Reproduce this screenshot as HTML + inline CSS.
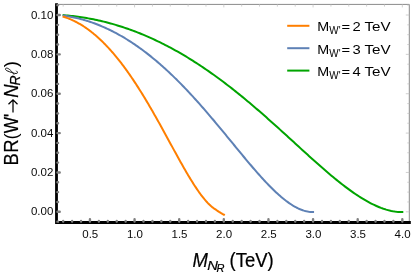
<!DOCTYPE html>
<html><head><meta charset="utf-8"><title>plot</title>
<style>html,body{margin:0;padding:0;background:#fff;width:415px;height:276px;overflow:hidden}</style></head>
<body>
<svg width="415" height="276" viewBox="0 0 415 276" style="position:absolute;left:0;top:0;will-change:transform">
<rect width="415" height="276" fill="#fff"/>
<path d="M56.5,4.4 H409.3 V222.5" fill="none" stroke="#8a8a8a" stroke-width="1"/>
<path d="M63.18,4.4 v2.2 M81.03,4.4 v2.2 M98.88,4.4 v2.2 M116.73,4.4 v2.2 M134.57,4.4 v3.0 M152.43,4.4 v2.2 M170.27,4.4 v2.2 M188.12,4.4 v2.2 M205.98,4.4 v2.2 M223.82,4.4 v3.0 M241.68,4.4 v2.2 M259.52,4.4 v2.2 M277.38,4.4 v2.2 M295.22,4.4 v2.2 M313.07,4.4 v3.0 M330.93,4.4 v2.2 M348.77,4.4 v2.2 M366.62,4.4 v2.2 M384.47,4.4 v2.2 M402.32,4.4 v3.0 M409.3,221.64 h-2 M409.3,211.80 h-3.5 M409.3,201.96 h-2 M409.3,192.12 h-2 M409.3,182.28 h-2 M409.3,172.44 h-3.5 M409.3,162.60 h-2 M409.3,152.76 h-2 M409.3,142.92 h-2 M409.3,133.08 h-3.5 M409.3,123.24 h-2 M409.3,113.40 h-2 M409.3,103.56 h-2 M409.3,93.72 h-3.5 M409.3,83.88 h-2 M409.3,74.04 h-2 M409.3,64.20 h-2 M409.3,54.36 h-3.5 M409.3,44.52 h-2 M409.3,34.68 h-2 M409.3,24.84 h-2 M409.3,15.00 h-3.5 M409.3,5.16 h-2" stroke="#c4c4c4" stroke-width="0.8" fill="none"/>
<path d="M62.64,15.11 L64.35,15.24 L66.06,15.38 L67.78,15.54 L69.49,15.71 L71.20,15.89 L72.91,16.08 L74.62,16.28 L76.33,16.50 L78.05,16.73 L79.76,16.97 L81.47,17.22 L83.18,17.49 L84.89,17.77 L86.61,18.06 L88.32,18.36 L90.03,18.68 L91.74,19.00 L93.45,19.34 L95.17,19.70 L96.88,20.06 L98.59,20.44 L100.30,20.83 L102.01,21.23 L103.72,21.65 L105.44,22.08 L107.15,22.52 L108.86,22.97 L110.57,23.44 L112.28,23.91 L114.00,24.40 L115.71,24.91 L117.42,25.42 L119.13,25.95 L120.84,26.49 L122.56,27.05 L124.27,27.61 L125.98,28.19 L127.69,28.78 L129.40,29.39 L131.12,30.01 L132.83,30.64 L134.54,31.28 L136.25,31.93 L137.96,32.60 L139.67,33.28 L141.39,33.98 L143.10,34.68 L144.81,35.40 L146.52,36.13 L148.23,36.88 L149.95,37.63 L151.66,38.40 L153.37,39.19 L155.08,39.98 L156.79,40.79 L158.51,41.61 L160.22,42.45 L161.93,43.29 L163.64,44.15 L165.35,45.03 L167.07,45.91 L168.78,46.81 L170.49,47.72 L172.20,48.64 L173.91,49.58 L175.62,50.53 L177.34,51.49 L179.05,52.46 L180.76,53.45 L182.47,54.45 L184.18,55.46 L185.90,56.48 L187.61,57.52 L189.32,58.57 L191.03,59.63 L192.74,60.70 L194.46,61.79 L196.17,62.89 L197.88,64.00 L199.59,65.12 L201.30,66.25 L203.01,67.40 L204.73,68.56 L206.44,69.73 L208.15,70.91 L209.86,72.11 L211.57,73.31 L213.29,74.53 L215.00,75.76 L216.71,77.00 L218.42,78.25 L220.13,79.51 L221.85,80.79 L223.56,82.07 L225.27,83.37 L226.98,84.68 L228.69,85.99 L230.41,87.32 L232.12,88.66 L233.83,90.01 L235.54,91.37 L237.25,92.74 L238.96,94.12 L240.68,95.51 L242.39,96.90 L244.10,98.31 L245.81,99.73 L247.52,101.15 L249.24,102.59 L250.95,104.03 L252.66,105.48 L254.37,106.94 L256.08,108.41 L257.80,109.88 L259.51,111.36 L261.22,112.85 L262.93,114.35 L264.64,115.85 L266.36,117.36 L268.07,118.88 L269.78,120.40 L271.49,121.92 L273.20,123.45 L274.91,124.99 L276.63,126.53 L278.34,128.08 L280.05,129.63 L281.76,131.18 L283.47,132.73 L285.19,134.29 L286.90,135.85 L288.61,137.41 L290.32,138.98 L292.03,140.54 L293.75,142.11 L295.46,143.67 L297.17,145.24 L298.88,146.80 L300.59,148.37 L302.30,149.93 L304.02,151.49 L305.73,153.04 L307.44,154.60 L309.15,156.15 L310.86,157.69 L312.58,159.23 L314.29,160.76 L316.00,162.29 L317.71,163.81 L319.42,165.32 L321.14,166.83 L322.85,168.32 L324.56,169.81 L326.27,171.28 L327.98,172.75 L329.70,174.20 L331.41,175.64 L333.12,177.07 L334.83,178.48 L336.54,179.87 L338.25,181.26 L339.97,182.62 L341.68,183.97 L343.39,185.30 L345.10,186.61 L346.81,187.90 L348.53,189.16 L350.24,190.41 L351.95,191.63 L353.66,192.83 L355.37,194.01 L357.09,195.15 L358.80,196.27 L360.51,197.37 L362.22,198.43 L363.93,199.46 L365.65,200.47 L367.36,201.43 L369.07,202.37 L370.78,203.27 L372.49,204.14 L374.20,204.96 L375.92,205.75 L377.63,206.50 L379.34,207.21 L381.05,207.88 L382.76,208.50 L384.48,209.08 L386.19,209.61 L387.90,210.09 L389.61,210.53 L391.32,210.91 L393.04,211.25 L394.75,211.53 L396.46,211.75 L398.17,211.93 L399.88,212.04 L401.59,212.09 L403.31,212.10" fill="none" stroke="#00a400" stroke-width="2" stroke-linecap="butt" stroke-linejoin="round"/>
<path d="M62.64,15.47 L63.90,15.64 L65.17,15.82 L66.43,16.01 L67.69,16.22 L68.96,16.44 L70.22,16.66 L71.48,16.91 L72.75,17.16 L74.01,17.42 L75.27,17.70 L76.54,17.99 L77.80,18.29 L79.06,18.60 L80.33,18.93 L81.59,19.26 L82.85,19.61 L84.12,19.97 L85.38,20.35 L86.64,20.73 L87.91,21.13 L89.17,21.54 L90.43,21.96 L91.70,22.39 L92.96,22.84 L94.22,23.30 L95.49,23.77 L96.75,24.25 L98.01,24.75 L99.28,25.25 L100.54,25.77 L101.81,26.30 L103.07,26.85 L104.33,27.40 L105.60,27.97 L106.86,28.55 L108.12,29.14 L109.39,29.75 L110.65,30.37 L111.91,31.00 L113.18,31.64 L114.44,32.29 L115.70,32.96 L116.97,33.64 L118.23,34.33 L119.49,35.03 L120.76,35.75 L122.02,36.48 L123.28,37.22 L124.55,37.97 L125.81,38.74 L127.07,39.51 L128.34,40.30 L129.60,41.11 L130.86,41.92 L132.13,42.75 L133.39,43.59 L134.65,44.44 L135.92,45.31 L137.18,46.18 L138.44,47.07 L139.71,47.97 L140.97,48.89 L142.23,49.81 L143.50,50.75 L144.76,51.70 L146.02,52.66 L147.29,53.64 L148.55,54.63 L149.81,55.63 L151.08,56.64 L152.34,57.66 L153.60,58.70 L154.87,59.74 L156.13,60.80 L157.39,61.87 L158.66,62.96 L159.92,64.05 L161.18,65.16 L162.45,66.28 L163.71,67.41 L164.98,68.55 L166.24,69.70 L167.50,70.87 L168.77,72.05 L170.03,73.23 L171.29,74.43 L172.56,75.64 L173.82,76.86 L175.08,78.10 L176.35,79.34 L177.61,80.59 L178.87,81.86 L180.14,83.13 L181.40,84.42 L182.66,85.71 L183.93,87.02 L185.19,88.34 L186.45,89.66 L187.72,91.00 L188.98,92.34 L190.24,93.70 L191.51,95.07 L192.77,96.44 L194.03,97.82 L195.30,99.21 L196.56,100.61 L197.82,102.02 L199.09,103.44 L200.35,104.87 L201.61,106.30 L202.88,107.74 L204.14,109.19 L205.40,110.65 L206.67,112.11 L207.93,113.58 L209.19,115.06 L210.46,116.54 L211.72,118.03 L212.98,119.52 L214.25,121.02 L215.51,122.53 L216.77,124.04 L218.04,125.56 L219.30,127.07 L220.56,128.60 L221.83,130.12 L223.09,131.65 L224.36,133.19 L225.62,134.72 L226.88,136.26 L228.15,137.80 L229.41,139.34 L230.67,140.88 L231.94,142.42 L233.20,143.96 L234.46,145.50 L235.73,147.04 L236.99,148.58 L238.25,150.12 L239.52,151.65 L240.78,153.19 L242.04,154.71 L243.31,156.24 L244.57,157.76 L245.83,159.28 L247.10,160.78 L248.36,162.29 L249.62,163.79 L250.89,165.27 L252.15,166.76 L253.41,168.23 L254.68,169.69 L255.94,171.15 L257.20,172.59 L258.47,174.02 L259.73,175.44 L260.99,176.84 L262.26,178.24 L263.52,179.62 L264.78,180.98 L266.05,182.33 L267.31,183.66 L268.57,184.97 L269.84,186.26 L271.10,187.54 L272.36,188.79 L273.63,190.03 L274.89,191.24 L276.15,192.43 L277.42,193.59 L278.68,194.73 L279.94,195.84 L281.21,196.93 L282.47,197.99 L283.74,199.02 L285.00,200.02 L286.26,200.99 L287.53,201.92 L288.79,202.83 L290.05,203.70 L291.32,204.53 L292.58,205.33 L293.84,206.09 L295.11,206.81 L296.37,207.49 L297.63,208.13 L298.90,208.72 L300.16,209.27 L301.42,209.78 L302.69,210.24 L303.95,210.65 L305.21,211.02 L306.48,211.33 L307.74,211.59 L309.00,211.80 L310.27,211.96 L311.53,212.06 L312.79,212.10 L314.06,212.10" fill="none" stroke="#5e81b5" stroke-width="2" stroke-linecap="butt" stroke-linejoin="round"/>
<path d="M62.64,16.50 L63.45,16.75 L64.27,17.00 L65.08,17.26 L65.90,17.54 L66.71,17.83 L67.53,18.13 L68.34,18.44 L69.16,18.76 L69.97,19.10 L70.79,19.44 L71.60,19.80 L72.42,20.16 L73.23,20.54 L74.05,20.93 L74.86,21.33 L75.68,21.75 L76.49,22.17 L77.31,22.60 L78.12,23.05 L78.94,23.51 L79.75,23.98 L80.57,24.46 L81.38,24.95 L82.20,25.46 L83.01,25.97 L83.83,26.50 L84.64,27.04 L85.46,27.59 L86.27,28.15 L87.09,28.72 L87.90,29.31 L88.72,29.90 L89.53,30.51 L90.35,31.13 L91.16,31.76 L91.98,32.41 L92.79,33.06 L93.61,33.73 L94.42,34.40 L95.24,35.09 L96.05,35.79 L96.87,36.50 L97.68,37.23 L98.50,37.96 L99.31,38.71 L100.13,39.47 L100.94,40.24 L101.76,41.02 L102.57,41.81 L103.39,42.62 L104.20,43.43 L105.01,44.26 L105.83,45.10 L106.64,45.95 L107.46,46.82 L108.27,47.69 L109.09,48.58 L109.90,49.47 L110.72,50.38 L111.53,51.30 L112.35,52.23 L113.16,53.18 L113.98,54.13 L114.79,55.10 L115.61,56.08 L116.42,57.06 L117.24,58.06 L118.05,59.08 L118.87,60.10 L119.68,61.13 L120.50,62.18 L121.31,63.23 L122.13,64.30 L122.94,65.38 L123.76,66.47 L124.57,67.57 L125.39,68.68 L126.20,69.80 L127.02,70.93 L127.83,72.08 L128.65,73.23 L129.46,74.39 L130.28,75.57 L131.09,76.75 L131.91,77.95 L132.72,79.15 L133.54,80.37 L134.35,81.60 L135.17,82.83 L135.98,84.08 L136.80,85.33 L137.61,86.60 L138.43,87.87 L139.24,89.16 L140.06,90.45 L140.87,91.75 L141.69,93.06 L142.50,94.38 L143.32,95.71 L144.13,97.05 L144.95,98.39 L145.76,99.75 L146.58,101.11 L147.39,102.48 L148.21,103.86 L149.02,105.24 L149.83,106.64 L150.65,108.04 L151.46,109.44 L152.28,110.86 L153.09,112.28 L153.91,113.70 L154.72,115.14 L155.54,116.57 L156.35,118.02 L157.17,119.47 L157.98,120.92 L158.80,122.38 L159.61,123.85 L160.43,125.31 L161.24,126.79 L162.06,128.26 L162.87,129.74 L163.69,131.22 L164.50,132.71 L165.32,134.20 L166.13,135.69 L166.95,137.18 L167.76,138.67 L168.58,140.16 L169.39,141.66 L170.21,143.15 L171.02,144.65 L171.84,146.14 L172.65,147.63 L173.47,149.12 L174.28,150.61 L175.10,152.10 L175.91,153.58 L176.73,155.06 L177.54,156.54 L178.36,158.01 L179.17,159.48 L179.99,160.94 L180.80,162.40 L181.62,163.85 L182.43,165.29 L183.25,166.73 L184.06,168.16 L184.88,169.58 L185.69,170.99 L186.51,172.39 L187.32,173.77 L188.14,175.15 L188.95,176.52 L189.77,177.87 L190.58,179.21 L191.40,180.53 L192.21,181.84 L193.03,183.14 L193.84,184.42 L194.66,185.68 L195.47,186.92 L196.28,188.15 L197.10,189.36 L197.91,190.54 L198.73,191.71 L199.54,192.85 L200.36,193.97 L201.17,195.07 L201.99,196.14 L202.80,197.18 L203.62,198.20 L204.43,199.20 L205.25,200.16 L206.06,201.09 L206.88,202.00 L207.69,202.87 L208.51,203.71 L209.32,204.52 L210.14,205.29 L210.95,206.03 L211.77,206.73 L212.58,207.40 L213.40,208.02 L214.21,208.61 L215.03,209.15 L215.84,209.70 L216.66,210.25 L217.47,210.80 L218.29,211.34 L219.10,211.88 L219.92,212.40 L220.73,212.91 L221.55,213.40 L222.36,213.87 L223.18,214.32 L223.99,214.75 L224.81,215.20" fill="none" stroke="#ff7f00" stroke-width="2" stroke-linecap="butt" stroke-linejoin="round"/>
<path d="M56.5,3.2 V222.5 H410.8" fill="none" stroke="#000" stroke-width="2.8" stroke-linejoin="miter"/>
<path d="M63.18,221.55 v-0.6 M72.10,221.55 v-0.6 M81.03,221.55 v-0.6 M89.95,221.55 v-2.3 M98.88,221.55 v-0.6 M107.80,221.55 v-0.6 M116.73,221.55 v-0.6 M125.65,221.55 v-0.6 M134.57,221.55 v-2.3 M143.50,221.55 v-0.6 M152.43,221.55 v-0.6 M161.35,221.55 v-0.6 M170.27,221.55 v-0.6 M179.20,221.55 v-2.3 M188.12,221.55 v-0.6 M197.05,221.55 v-0.6 M205.98,221.55 v-0.6 M214.90,221.55 v-0.6 M223.82,221.55 v-2.3 M232.75,221.55 v-0.6 M241.68,221.55 v-0.6 M250.60,221.55 v-0.6 M259.52,221.55 v-0.6 M268.45,221.55 v-2.3 M277.38,221.55 v-0.6 M286.30,221.55 v-0.6 M295.22,221.55 v-0.6 M304.15,221.55 v-0.6 M313.07,221.55 v-2.3 M322.00,221.55 v-0.6 M330.93,221.55 v-0.6 M339.85,221.55 v-0.6 M348.77,221.55 v-0.6 M357.70,221.55 v-2.3 M366.62,221.55 v-0.6 M375.55,221.55 v-0.6 M384.47,221.55 v-0.6 M393.40,221.55 v-0.6 M402.32,221.55 v-2.3 M57.45,221.64 h0.6 M57.45,211.80 h2.3 M57.45,201.96 h0.6 M57.45,192.12 h0.6 M57.45,182.28 h0.6 M57.45,172.44 h2.3 M57.45,162.60 h0.6 M57.45,152.76 h0.6 M57.45,142.92 h0.6 M57.45,133.08 h2.3 M57.45,123.24 h0.6 M57.45,113.40 h0.6 M57.45,103.56 h0.6 M57.45,93.72 h2.3 M57.45,83.88 h0.6 M57.45,74.04 h0.6 M57.45,64.20 h0.6 M57.45,54.36 h2.3 M57.45,44.52 h0.6 M57.45,34.68 h0.6 M57.45,24.84 h0.6 M57.45,15.00 h2.3 M57.45,5.16 h0.6" stroke="#808080" stroke-width="2.4" stroke-linecap="round" fill="none"/>
<g font-family="Liberation Sans, sans-serif" font-size="11.5" fill="#0a0a0a">
<text x="90.25" y="238.4" text-anchor="middle">0.5</text>
<text x="134.88" y="238.4" text-anchor="middle">1.0</text>
<text x="179.50" y="238.4" text-anchor="middle">1.5</text>
<text x="224.12" y="238.4" text-anchor="middle">2.0</text>
<text x="268.75" y="238.4" text-anchor="middle">2.5</text>
<text x="313.38" y="238.4" text-anchor="middle">3.0</text>
<text x="358.00" y="238.4" text-anchor="middle">3.5</text>
<text x="402.62" y="238.4" text-anchor="middle">4.0</text>
<text x="53.3" y="215.40" text-anchor="end">0.00</text>
<text x="53.3" y="176.04" text-anchor="end">0.02</text>
<text x="53.3" y="136.68" text-anchor="end">0.04</text>
<text x="53.3" y="97.32" text-anchor="end">0.06</text>
<text x="53.3" y="57.96" text-anchor="end">0.08</text>
<text x="53.3" y="18.60" text-anchor="end">0.10</text>
</g>
<g font-family="Liberation Sans, sans-serif" font-size="13.2" fill="#000">
<path d="M287.2,25.8 H309.4" stroke="#ff7f00" stroke-width="2"/>
<text transform="translate(317.30,31.40) scale(1.085,1)">M</text>
<text transform="translate(329.30,34.20) scale(0.9,1)" font-size="11">W'</text>
<text transform="translate(341.50,31.40) scale(1.12,1)">=</text>
<text transform="translate(352.50,31.40) scale(1.12,1)">2</text>
<text transform="translate(364.50,31.40) scale(1.15,1)">TeV</text>
<path d="M287.2,48.2 H309.4" stroke="#5e81b5" stroke-width="2"/>
<text transform="translate(317.30,53.80) scale(1.085,1)">M</text>
<text transform="translate(329.30,56.60) scale(0.9,1)" font-size="11">W'</text>
<text transform="translate(341.50,53.80) scale(1.12,1)">=</text>
<text transform="translate(352.50,53.80) scale(1.12,1)">3</text>
<text transform="translate(364.50,53.80) scale(1.15,1)">TeV</text>
<path d="M287.2,70.6 H309.4" stroke="#00a400" stroke-width="2"/>
<text transform="translate(317.30,76.20) scale(1.085,1)">M</text>
<text transform="translate(329.30,79.00) scale(0.9,1)" font-size="11">W'</text>
<text transform="translate(341.50,76.20) scale(1.12,1)">=</text>
<text transform="translate(352.50,76.20) scale(1.12,1)">4</text>
<text transform="translate(364.50,76.20) scale(1.15,1)">TeV</text>
</g>
<g font-family="Liberation Sans, sans-serif" fill="#000" stroke="#000" stroke-width="0.2">
<text font-style="italic" transform="translate(192.40,266.70) scale(1.0,1.05)" font-size="18.5">M</text>
<text font-style="italic" transform="translate(207.20,269.60) scale(1.12,1)" font-size="13.2">N</text>
<text font-style="italic" transform="translate(216.60,271.80) scale(1.05,1)" font-size="10.5">R</text>
<text transform="translate(229.50,266.70) scale(1.0,1.05)" font-size="18.5">(TeV)</text>
</g>
<g font-family="Liberation Sans, sans-serif" fill="#000" stroke="#000" stroke-width="0.2">
<text transform="translate(17.50,165.40) rotate(-90) scale(1.0,1.08)" font-size="18.5">B</text>
<text transform="translate(17.50,152.80) rotate(-90) scale(1.0,1.08)" font-size="18.5">R</text>
<text transform="translate(17.10,139.60) rotate(-90) scale(1.0,1.0)" font-size="18.5" stroke="none">(</text>
<text transform="translate(17.50,133.20) rotate(-90) scale(0.93,1.08)" font-size="18.5">W</text>
<text transform="translate(17.50,117.20) rotate(-90) scale(1.0,1.08)" font-size="18.5">'</text>
<path d="M13,112.6 V100.2 M8.5,104.3 L13,99.8 L17.5,104.3" fill="none" stroke="#000" stroke-width="1.25" stroke-linejoin="miter"/>
<text transform="translate(17.50,97.70) rotate(-90) scale(1.0,1.08)" font-size="18.5" font-style="italic">N</text>
<text transform="translate(20.00,85.50) rotate(-90) scale(1.0,1.08)" font-size="14" font-style="italic">R</text>
<path transform="translate(18.1,74.6) rotate(-90)" d="M0.3,-4.2 C2.8,-5.6 6.7,-9.6 6.5,-11.6 C6.3,-13.3 4.6,-12.9 3.8,-11 C2.8,-8.6 1.0,-4 1.1,-1.9 C1.2,-0.2 2.4,-0.2 3.6,-1.6" fill="none" stroke="#111" stroke-width="1" stroke-linecap="round"/>
<text transform="translate(16.90,67.20) rotate(-90) scale(1.0,1.0)" font-size="18.5" stroke="none">)</text>
</g>
</svg>
</body></html>
